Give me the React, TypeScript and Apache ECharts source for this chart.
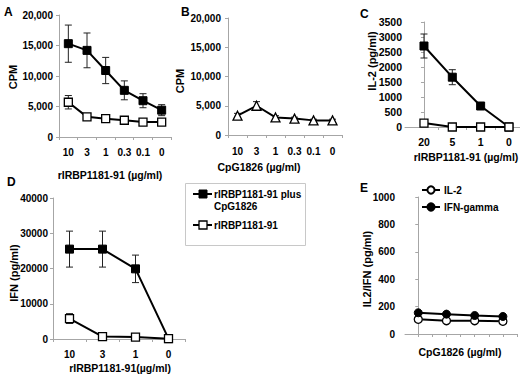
import React, { useEffect, useRef } from "react";
import * as echarts from "echarts";

// ---- Data ----
const doseA = ["10", "3", "1", "0.3", "0.1", "0"];
const comboA = [15300, 14200, 10900, 7650, 5950, 4400];
const comboAErr = [3050, 2850, 2150, 1550, 1150, 900];
const peptideA = [5700, 3300, 3000, 2750, 2450, 2450];
const peptideAErr = [1100, 300, 250, 200, 200, 200];

const doseB = ["10", "3", "1", "0.3", "0.1", "0"];
const cpgB = [3300, 5000, 3000, 2800, 2500, 2500];
const cpgBErr = [400, 700, 300, 250, 200, 200];

const doseC = ["20", "5", "1", "0"];
const comboC = [2700, 1660, 700, 0];
const comboCErr = [400, 250, 60, 0];
const peptideC = [130, 0, 0, 0];

const doseD = ["10", "3", "1", "0"];
const comboD = [25500, 25500, 19900, 100];
const comboDErr = [5100, 5100, 3900, 0];
const peptideD = [5800, 700, 550, 100];
const peptideDErr = [1400, 0, 0, 0];

const il2E = [107, 97, 97, 93];
const ifnE = [155, 145, 135, 128];

const nameCombo = "rIRBP1181-91 plus CpG1826";
const namePeptide = "rIRBP1181-91";

const FONT = "'Liberation Sans', Arial, sans-serif";
const AX = "#a6a6a6";

const withErr = (vals: number[], errs: number[]) => vals.map((v, i) => [i, v, errs[i]]);
const idxPairs = (vals: number[]) => vals.map((v, i) => [i, v]);

const errRender = (params: any, api: any) => {
  const x = api.value(0);
  const y = api.value(1);
  const e = api.value(2);
  if (!e) return null;
  const top = api.coord([x, y + e]);
  const bot = api.coord([x, y - e]);
  const cw = 3.5;
  const st = { stroke: "#222", lineWidth: 1 };
  return {
    type: "group",
    children: [
      { type: "line", shape: { x1: top[0], y1: top[1], x2: bot[0], y2: bot[1] }, style: st },
      { type: "line", shape: { x1: top[0] - cw, y1: top[1], x2: top[0] + cw, y2: top[1] }, style: st },
      { type: "line", shape: { x1: bot[0] - cw, y1: bot[1], x2: bot[0] + cw, y2: bot[1] }, style: st },
    ],
  };
};

const labelStyle = (margin: number, size = 10) => ({
  fontFamily: FONT,
  fontWeight: "bold",
  fontSize: size,
  color: "#000",
  margin,
});

const plainFmt = (v: number) => String(v);
const commaFmt = (v: number) => v.toLocaleString("en-US");

const yAxis = (gridIndex: number, max: number, interval: number, margin: number, fmt: any, size = 10) => ({
  type: "value",
  gridIndex,
  min: 0,
  max,
  interval,
  axisLine: { show: true, lineStyle: { color: AX, width: 1 } },
  axisTick: { show: true, length: 3, lineStyle: { color: AX } },
  splitLine: { show: false },
  axisLabel: { ...labelStyle(margin, size), formatter: fmt },
});

const catAxis = (gridIndex: number, data: string[], margin: number) => ({
  type: "category",
  gridIndex,
  data,
  boundaryGap: true,
  axisLine: { show: true, lineStyle: { color: AX, width: 1 } },
  axisTick: { show: true, length: 3, lineStyle: { color: AX } },
  axisLabel: { ...labelStyle(margin), interval: 0 },
});

const lineSeries = (name: string, xi: number, data: any[], symbol: string, filled: boolean, size = 8) => ({
  type: "line",
  name,
  xAxisIndex: xi,
  yAxisIndex: xi,
  data,
  symbol,
  symbolSize: size,
  showSymbol: true,
  z: 3,
  lineStyle: { color: "#000", width: 2 },
  itemStyle: filled
    ? { color: "#000", borderColor: "#000", borderWidth: 1 }
    : { color: "#fff", borderColor: "#000", borderWidth: 1.3 },
  emphasis: { disabled: true },
});

const errSeries = (xi: number, data: any[]) => ({
  type: "custom",
  xAxisIndex: xi,
  yAxisIndex: xi,
  data,
  renderItem: errRender,
  encode: { x: 0, y: 1 },
  z: 2,
  silent: true,
});

const txt = (text: string, x: number, y: number, size: number, rotate = false, align = "center") => ({
  type: "text",
  x,
  y,
  z: 5,
  rotation: rotate ? Math.PI / 2 : 0,
  style: {
    text,
    fontFamily: FONT,
    fontWeight: "bold",
    fontSize: size,
    fill: "#000",
    align,
    verticalAlign: "middle",
  },
});

export default function App() {
  const ref = useRef<HTMLDivElement>(null);
  useEffect(() => {
    document.body.style.margin = "0";
    const chart = echarts.init(ref.current!, null, { renderer: "svg" });
    const option: any = {
      animation: false,
      backgroundColor: "#fff",
      grid: [
        { left: 59, top: 15, width: 112, height: 122, outerBoundsMode: "none" },
        { left: 228, top: 18, width: 114, height: 117, outerBoundsMode: "none" },
        { left: 405, top: 22, width: 115, height: 105, outerBoundsMode: "none" },
        { left: 53, top: 198, width: 132, height: 141, outerBoundsMode: "none" },
        { left: 405, top: 197, width: 112, height: 137, outerBoundsMode: "none" },
      ],
      xAxis: [
        catAxis(0, doseA, 10),
        catAxis(1, doseB, 11),
        {
          type: "value",
          gridIndex: 2,
          min: -0.67,
          max: 3.39,
          axisLine: { show: true, lineStyle: { color: AX, width: 1 } },
          axisTick: { show: true, length: 3, lineStyle: { color: AX }, customValues: [0.5, 1.5, 2.5] },
          splitLine: { show: false },
          axisLabel: {
            ...labelStyle(9, 10.5),
            customValues: [0, 1, 2, 3],
            formatter: (v: number) => doseC[Math.round(v)],
          },
        },
        catAxis(3, doseD, 10),
        {
          type: "value",
          gridIndex: 4,
          min: -0.47,
          max: 3.5,
          axisLine: { show: true, lineStyle: { color: AX, width: 1 } },
          axisTick: {
            show: true,
            length: 3,
            lineStyle: { color: AX },
            customValues: [0, 0.5, 1, 1.5, 2, 2.5, 3, 3.5],
          },
          splitLine: { show: false },
          axisLabel: { show: false },
        },
      ],
      yAxis: [
        yAxis(0, 20000, 5000, 6, commaFmt),
        yAxis(1, 20000, 5000, 7, commaFmt),
        yAxis(2, 3500, 500, 3, plainFmt, 10.5),
        yAxis(3, 40000, 10000, 5, plainFmt),
        yAxis(4, 1000, 200, 10, plainFmt),
      ],
      legend: {
        data: ["IL-2", "IFN-gamma"],
        orient: "vertical",
        left: 421,
        top: 185,
        itemGap: 7,
        itemWidth: 18,
        itemHeight: 9,
        padding: 0,
        selectedMode: false,
        textStyle: { fontFamily: FONT, fontWeight: "bold", fontSize: 10, color: "#000", padding: [0, 0, 0, -1] },
      },
      series: [
        // A
        errSeries(0, withErr(comboA, comboAErr)),
        errSeries(0, withErr(peptideA, peptideAErr)),
        lineSeries(nameCombo, 0, comboA, "rect", true),
        lineSeries(namePeptide, 0, peptideA, "rect", false),
        // B
        errSeries(1, withErr(cpgB, cpgBErr)),
        lineSeries("CpG1826", 1, cpgB, "triangle", false, 9),
        // C
        errSeries(2, withErr(comboC, comboCErr)),
        lineSeries(nameCombo, 2, idxPairs(comboC), "rect", true),
        lineSeries(namePeptide, 2, idxPairs(peptideC), "rect", false),
        // D
        errSeries(3, withErr(comboD, comboDErr)),
        errSeries(3, withErr(peptideD, peptideDErr)),
        lineSeries(nameCombo, 3, comboD, "rect", true),
        lineSeries(namePeptide, 3, peptideD, "rect", false),
        // E
        lineSeries("IL-2", 4, idxPairs(il2E), "circle", false, 8),
        lineSeries("IFN-gamma", 4, idxPairs(ifnE), "circle", true, 8),
      ],
      graphic: [
        // panel letters
        txt("A", 4, 12, 12, false, "left"),
        txt("B", 181, 12, 12, false, "left"),
        txt("C", 360, 14, 12, false, "left"),
        txt("D", 7, 182, 12, false, "left"),
        txt("E", 360, 188, 12, false, "left"),
        // y axis names
        txt("CPM", 13, 77, 11, true),
        txt("CPM", 180, 81, 11, true),
        txt("IL-2 (pg/ml)", 372, 61, 11, true),
        txt("IFN (pg/ml)", 14, 273, 11, true),
        txt("IL2/IFN (pg/ml)", 367, 269, 11, true),
        // x axis names
        txt("rIRBP1181-91 (µg/ml)", 110, 175, 10.5),
        txt("CpG1826 (µg/ml)", 259, 167, 10.5),
        txt("rIRBP1181-91 (µg/ml)", 466, 157, 10.5),
        txt("rIRBP1181-91(µg/ml)", 120, 368, 10.5),
        txt("CpG1826 (µg/ml)", 460, 352, 10.5),
        // legend for D
        {
          type: "rect",
          shape: { x: 185.5, y: 183.5, width: 120, height: 62 },
          style: { fill: "#fff", stroke: "#c8c8c8", lineWidth: 1 },
          z: 1,
        },
        { type: "line", shape: { x1: 193, y1: 194, x2: 212, y2: 194 }, style: { stroke: "#000", lineWidth: 2 }, z: 2 },
        { type: "rect", shape: { x: 199, y: 190, width: 8, height: 8 }, style: { fill: "#000", stroke: "#000" }, z: 3 },
        txt("rIRBP1181-91 plus", 214, 194, 10, false, "left"),
        txt("CpG1826", 214, 206, 10, false, "left"),
        { type: "line", shape: { x1: 193, y1: 225, x2: 212, y2: 225 }, style: { stroke: "#000", lineWidth: 2 }, z: 2 },
        {
          type: "rect",
          shape: { x: 199, y: 221, width: 8, height: 8 },
          style: { fill: "#fff", stroke: "#000", lineWidth: 1.3 },
          z: 3,
        },
        txt("rIRBP1181-91", 214, 225, 10, false, "left"),
      ],
    };
    chart.setOption(option);
    return () => chart.dispose();
  }, []);
  return <div ref={ref} style={{ width: 520, height: 375 }} />;
}
